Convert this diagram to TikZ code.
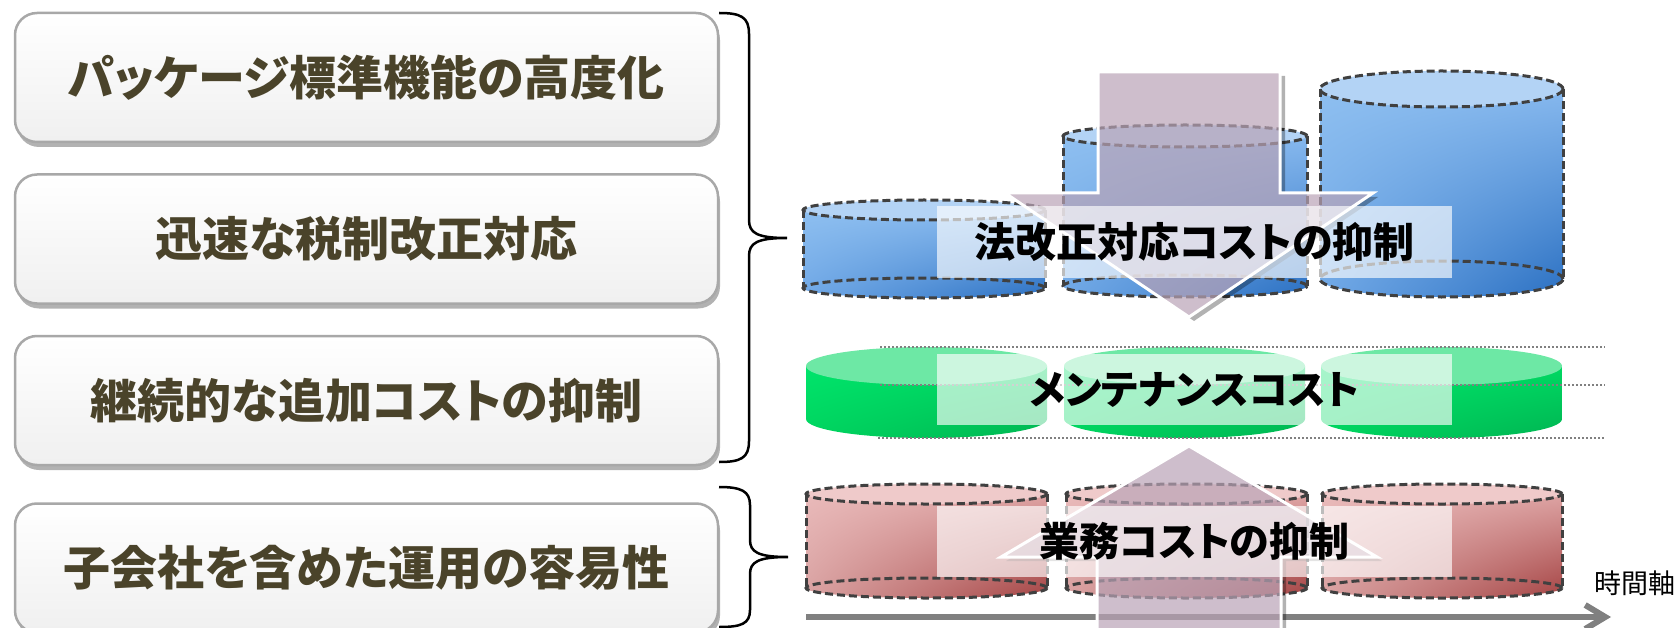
\documentclass[tikz,border=0pt]{standalone}
\usepackage{fontspec}
\newfontfamily\jp[RawFeature=+palt]{Noto Sans CJK JP}
\usepackage{tikz}
\usetikzlibrary{positioning,arrows.meta,shadows,shadings,calc}

\definecolor{boxtext}{RGB}{74,67,42}
\definecolor{boxline}{RGB}{168,168,168}
\definecolor{cylgray}{RGB}{64,64,64}
\definecolor{bluetop}{RGB}{179,211,245}
\definecolor{blueul}{RGB}{142,191,240}
\definecolor{blueur}{RGB}{134,184,238}
\definecolor{bluell}{RGB}{112,168,230}
\definecolor{bluelr}{RGB}{43,112,194}
\definecolor{greentop}{RGB}{109,232,165}
\definecolor{greenul}{RGB}{0,228,107}
\definecolor{greenur}{RGB}{0,216,98}
\definecolor{greenll}{RGB}{0,212,95}
\definecolor{greenlr}{RGB}{0,181,82}
\definecolor{redtop}{RGB}{239,202,202}
\definecolor{redul}{RGB}{233,186,186}
\definecolor{redur}{RGB}{221,163,163}
\definecolor{redll}{RGB}{217,162,162}
\definecolor{redlr}{RGB}{165,68,68}
\definecolor{arrowmauve}{RGB}{185,163,182}
\definecolor{axisgray}{RGB}{128,128,128}

% cylinder: centre x, top y, bottom y, x radius, y radius, side style, top style
\newcommand{\cyl}[7]{%
  \path[#6] ({#1-#4},#2) -- ({#1-#4},#3)
    arc[start angle=180,end angle=360,x radius=#4pt,y radius=#5pt]
    -- ({#1+#4},#2) -- cycle;
  \path[#7] (#1,#2) ellipse[x radius=#4pt,y radius=#5pt];
}
\newcommand{\cylrim}[5]{%
  \draw[cylline] ({#1-#4},#2) -- ({#1-#4},#3);
  \draw[cylline] ({#1+#4},#2) -- ({#1+#4},#3);
  \draw[cylline] (#1,#3) ellipse[x radius=#4pt,y radius=#5pt];
  \draw[cylline] (#1,#2) ellipse[x radius=#4pt,y radius=#5pt];
}
\newcommand{\downarr}{(1098,72) -- (1280,72) -- (1280,193) -- (1373,193) -- (1189,317) -- (1005,193) -- (1098,193) -- cycle}
\newcommand{\uparr}{(1097,630) -- (1097,557) -- (1001,557) -- (1189,446) -- (1377,557) -- (1281,557) -- (1281,630) -- cycle}

\tikzset{
  goalbox/.style={draw=boxline, line width=2.5pt, rounded corners=22pt,
    top color=white, bottom color=gray!12,
    minimum width=703pt, minimum height=129pt,
    drop shadow={shadow xshift=2pt, shadow yshift=-5pt, opacity=0.5, fill=black!60},
    font=\jp\bfseries\fontsize{47}{50}\selectfont, text=boxtext},
  costlabel/.style={fill=white, fill opacity=0.65, text opacity=1,
    minimum width=515pt, minimum height=71pt, inner sep=0pt,
    font=\jp\bfseries\fontsize{40}{44}\selectfont},
  cylline/.style={draw=cylgray, line width=3pt, dash pattern=on 8pt off 4pt},
  blueside/.style={upper left=blueul, upper right=blueur, lower left=bluell, lower right=bluelr},
  greenside/.style={upper left=greenul, upper right=greenur, lower left=greenll, lower right=greenlr},
  redside/.style={upper left=redul, upper right=redur, lower left=redll, lower right=redlr},
  arrowbody/.style={fill=arrowmauve, fill opacity=0.7, draw=white, line width=3pt},
  brace/.style={draw=black, line width=2.5pt},
  levelline/.style={draw=axisgray, line width=2pt, dash pattern=on 2pt off 2pt},
}

\begin{document}
\begin{tikzpicture}[x=1pt,y=-1pt]
  \useasboundingbox (0,0) rectangle (1677,628);

  % left side
  \node[goalbox] (pkg) at (366.5,77.5) {パッケージ標準機能の高度化};
  \node[goalbox, below=30pt of pkg] (tax) {迅速な税制改正対応};
  \node[goalbox, below=30pt of tax] (addcost) {継続的な追加コストの抑制};
  \node[goalbox, below=36pt of addcost] (subsid) {子会社を含めた運用の容易性};

  \coordinate (b1top) at (719,13);
  \coordinate (b1tip) at (787,238);
  \coordinate (b1bot) at (719,462);
  \coordinate (b2top) at (719,487);
  \coordinate (b2tip) at (788,557);
  \coordinate (b2bot) at (719,627);
  \draw[brace] (b1top) .. controls (741,13) and (749,17) .. (749,34) -- (749,220)
    .. controls (749,233) and (757,238) .. (b1tip)
    .. controls (757,238) and (749,243) .. (749,256) -- (749,441)
    .. controls (749,458) and (741,462) .. (b1bot);
  \draw[brace] (b2top) .. controls (741,487) and (750,491) .. (750,505) -- (750,540)
    .. controls (750,552) and (758,557) .. (b2tip)
    .. controls (758,557) and (750,562) .. (750,574) -- (750,610)
    .. controls (750,624) and (741,627) .. (b2bot);

  % legal change cost
  \cyl{924}{210}{288}{121}{10}{blueside}{fill=bluetop}
  \cylrim{924}{210}{288}{121}{10}
  \cyl{1185}{136}{286}{122}{11}{blueside}{fill=bluetop}
  \cylrim{1185}{136}{286}{122}{11}
  \cyl{1441.5}{89}{279}{121.5}{18}{blueside}{fill=bluetop}
  \cylrim{1441.5}{89}{279}{121.5}{18}
  \begin{scope}[even odd rule]
    \clip (0,0) rectangle (1677,628) \downarr;
    \fill[black, opacity=0.3, shift={(5pt,-4pt)}] \downarr;
  \end{scope}
  \path[arrowbody] \downarr;
  \node[costlabel, font=\jp\bfseries\fontsize{41}{44}\selectfont] (legal) at (1194.5,242) {法改正対応コストの抑制};

  % maintenance cost
  \cyl{926.5}{366}{419}{120.5}{19}{greenside}{fill=greentop}
  \cyl{1184.5}{366}{419}{120.5}{19}{greenside}{fill=greentop}
  \cyl{1441.5}{366}{419}{120.5}{19}{greenside}{fill=greentop}
  \coordinate (d1l) at (880,347);
  \coordinate (d1r) at (1605,347);
  \coordinate (d2l) at (880,385);
  \coordinate (d2r) at (1605,385);
  \coordinate (d3l) at (878,438);
  \coordinate (d3r) at (1605,438);
  \draw[levelline] (d1l) -- (d1r);
  \draw[levelline] (d2l) -- (d2r);
  \draw[levelline] (d3l) -- (d3r);
  \node[costlabel] (maint) at (1194.5,389.5) {メンテナンスコスト};

  % operation cost
  \cyl{926.5}{494}{588}{120.5}{10}{redside}{fill=redtop}
  \cylrim{926.5}{494}{588}{120.5}{10}
  \cyl{1186.5}{494}{588}{120.5}{10}{redside}{fill=redtop}
  \cylrim{1186.5}{494}{588}{120.5}{10}
  \cyl{1442}{494}{588}{120}{10}{redside}{fill=redtop}
  \cylrim{1442}{494}{588}{120}{10}

  \coordinate (t0) at (806,617);
  \coordinate (t1) at (1611,617);
  \draw[axisgray, line width=6pt, -{Straight Barb[length=20pt,width=24pt]}] (t0) -- (t1);
  \node[font=\jp\fontsize{27}{30}\selectfont, anchor=west] (time) at (1591,583) {時間軸};

  \begin{scope}[even odd rule]
    \clip (0,0) rectangle (1677,628) \uparr;
    \fill[black, opacity=0.3, shift={(5pt,-4pt)}] \uparr;
  \end{scope}
  \path[arrowbody] \uparr;
  \node[costlabel] (oper) at (1194.5,541.5) {業務コストの抑制};
\end{tikzpicture}
\end{document}
